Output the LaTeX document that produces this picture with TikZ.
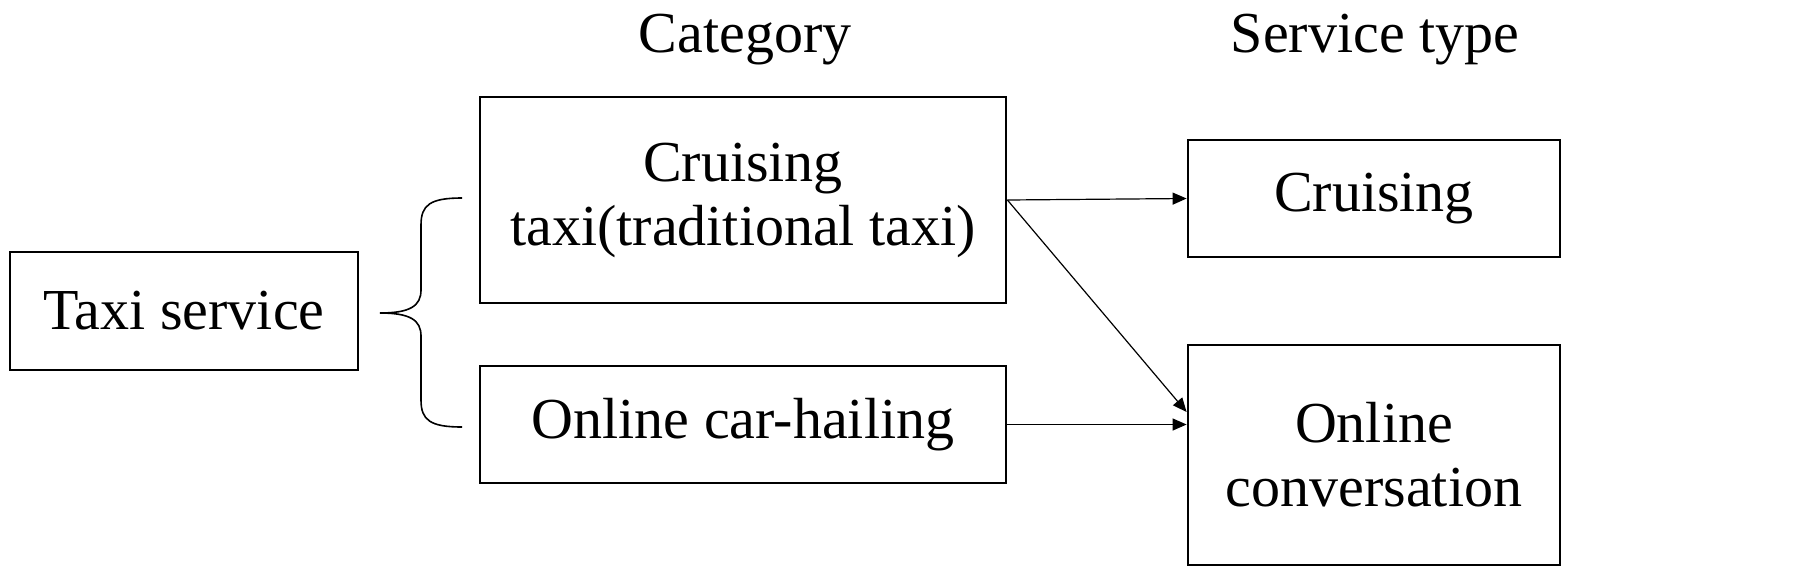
\documentclass[tikz,border=0pt]{standalone}
\usepackage{fontspec}
\setmainfont{Liberation Serif}
\usetikzlibrary{arrows.meta}
\begin{document}
\begin{tikzpicture}[x=0.5pt,y=-0.5pt,
  box/.style={draw,line width=1.4pt,inner sep=0pt,align=center,font=\fontsize{29}{32}\selectfont},
  arr/.style={-{Triangle[length=7pt,width=6pt]},line width=0.6pt},
  hdr/.style={font=\fontsize{29}{32}\selectfont}]
\useasboundingbox (0,0) rectangle (1808,574);
\node[box,minimum width=174pt,minimum height=59pt] (taxi) at (184,311) {Taxi service};
\node[box,minimum width=263pt,minimum height=103pt] (ct) at (743,200) {Cruising\\taxi(traditional taxi)};
\node[box,minimum width=263pt,minimum height=58.5pt] (oc) at (743,424.5) {Online car-hailing};
\node[box,minimum width=186pt,minimum height=58.5pt] (cr) at (1374,198.5) {Cruising};
\node[box,minimum width=186pt,minimum height=110pt] (on) at (1374,455) {Online\\conversation};
\node[hdr] (h1) at (745,40) {Category};
\node[hdr] (h2) at (1375,40) {Service type};
\coordinate (b0) at (380,313);
\draw[line width=0.8pt] (462,198) .. controls (430,198) and (421,205) .. (421,225) -- (421,290)
  .. controls (421,306) and (410,313) .. (b0)
  .. controls (410,313) and (421,320) .. (421,336) -- (421,400)
  .. controls (421,420) and (430,427) .. (462,427);
\draw[arr] (ct.east) -- (cr.west);
\draw[arr] (ct.east) -- (on.west|-0,412);
\draw[arr] (oc.east) -- (on.west|-oc.east);
\end{tikzpicture}
\end{document}
